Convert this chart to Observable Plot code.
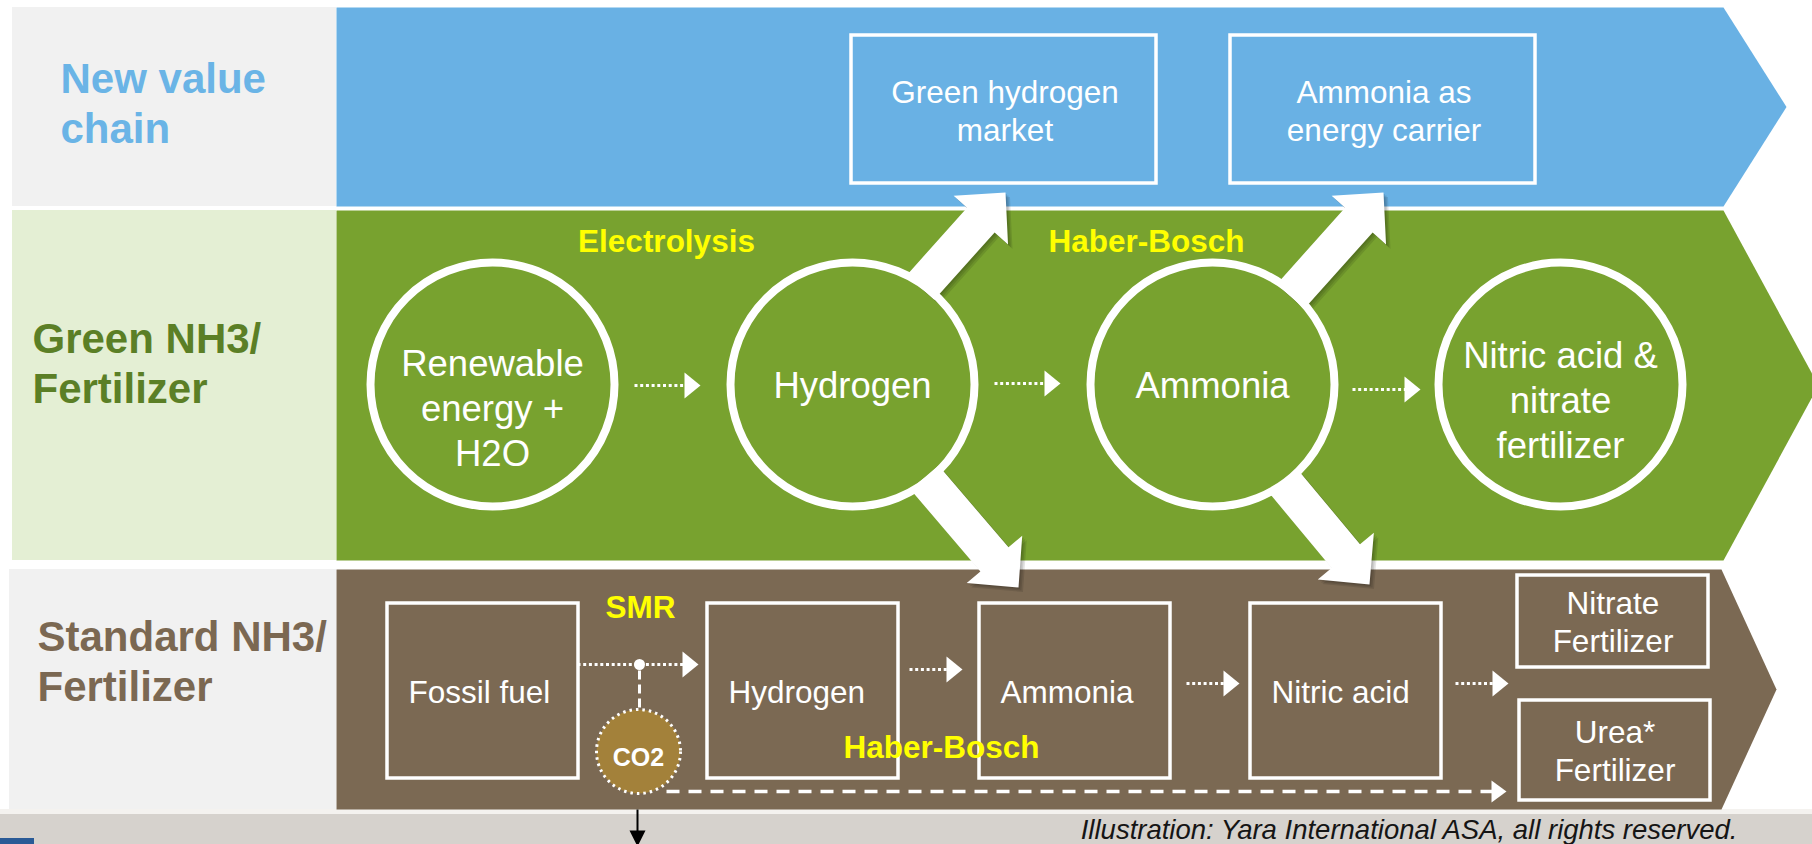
<!DOCTYPE html>
<html><head><meta charset="utf-8">
<script src="https://cdn.jsdelivr.net/npm/d3@7"></script>
<script src="https://cdn.jsdelivr.net/npm/@observablehq/plot@0.6"></script>
<style>
html,body{margin:0;padding:0;background:#fff;}
#chart svg{display:block;}
</style></head><body><div id="chart"></div>
<script>
// ---------------- data ----------------
const bandLabels = ["New value\nchain", "Green NH3/\nFertilizer", "Standard NH3/\nFertilizer"];
const marketLabels = ["Green hydrogen\nmarket", "Ammonia as\nenergy carrier"];
const greenStages = ["Renewable\nenergy +\nH2O", "Hydrogen", "Ammonia", "Nitric acid &\nnitrate\nfertilizer"];
const greenProcesses = ["Electrolysis", "Haber-Bosch"];
const standardStages = ["Fossil fuel", "Hydrogen", "Ammonia", "Nitric acid"];
const standardProducts = ["Nitrate\nFertilizer", "Urea*\nFertilizer"];
const standardProcesses = ["SMR", "Haber-Bosch"];
const byproducts = ["CO2"];
const captionText = "Illustration: Yara International ASA, all rights reserved.";
// links: [green stage index, market index] and [green stage index, standard stage index]
const upgrades = [[1, 0], [2, 1]];
const feeds = [[1, 2], [2, 3]];

// ---------------- layout ----------------
const W = 1812, H = 844;
const L = {
  labelX1: 12, chevX1: 336, labelSize: 42, labelGap: 50,
  bands: [
    {y1: 7, y2: 206, shoulder: 1723, tip: 1786, fill: "#69b1e4", box: "#f1f1f1", ink: "#6ab4e6", tx: 60, base: 92},
    {y1: 210, y2: 560, shoulder: 1723, tip: 1818, fill: "#78a22f", box: "#e4efd4", ink: "#5b7f26", tx: 32, base: 352},
    {y1: 569, y2: 809, shoulder: 1721, tip: 1776, fill: "#7b6953", box: "#f1f1f1", ink: "#7b6852", tx: 37, base: 650}
  ],
  market: {x1: [851, 1230], w: 305, y1: 35, y2: 183, base: 102, gap: 38, size: 31.5},
  circles: {cx: [492, 852, 1212, 1560], cy: 384, r: 122, base: [375, 397, 397, 367], gap: 45, size: 36.5},
  greenFlow: [[634, 700, 385], [994, 1060, 383], [1352, 1420, 389]],
  greenProc: [[666, 251], [1146, 251]],
  std: {x1: [387, 707, 979, 1250], w: 191, y1: 603, y2: 778, pad: 21, base: 702, size: 31.5},
  prod: {x1: [1517, 1519], w: 191, y: [[575, 667], [700, 800]], base: [613, 742], gap: 38.5},
  stdFlow: [[577, 698, 664], [909, 962, 669], [1186, 1239, 683], [1455, 1508, 683]],
  stdProc: [[640, 617], [941, 757]],
  junction: [639, 664],
  co2: {cx: 638, cy: 751, r: 42, base: 765},
  co2Drop: [639, 670, 708],
  co2Flow: [666, 1506, 791],
  upTips: [[[920, 287], [1005, 192]], [[1290, 296], [1383, 192]]],
  downTips: [[[924, 477], [1018, 587]], [[1284, 482], [1369, 584]]],
  arrow: {shaft: 37, headW: 73, headL: 37},
  shadow: [[1.5, 1.5], [3, 3], [4.5, 4.5]],
  strip: {y1: 814, fill: "#d6d2cd"},
  caption: {x: 1737, y: 838, size: 27.5},
  exitArrow: {x: 637, y1: 809, y2: 846}
};
const procSize = 31.5;

// ---------------- geometry helpers ----------------
const toPts = (pts, id, fill) => pts.map(([x, y]) => ({x, y, id, fill}));
function chevron(b) {
  return [[L.chevX1, b.y1], [b.shoulder, b.y1], [b.tip, (b.y1 + b.y2) / 2], [b.shoulder, b.y2], [L.chevX1, b.y2]];
}
function blockArrow([x0, y0], [x1, y1], s, hw, hl) {
  const dx = x1 - x0, dy = y1 - y0, len = Math.hypot(dx, dy);
  const ux = dx / len, uy = dy / len, nx = -uy, ny = ux;
  const bx = x1 - ux * hl, by = y1 - uy * hl;
  return [
    [x0 + nx * s / 2, y0 + ny * s / 2], [bx + nx * s / 2, by + ny * s / 2], [bx + nx * hw / 2, by + ny * hw / 2],
    [x1, y1],
    [bx - nx * hw / 2, by - ny * hw / 2], [bx - nx * s / 2, by - ny * s / 2], [x0 - nx * s / 2, y0 - ny * s / 2]
  ];
}
const headRight = (tx, ty, len, half) => [[tx - len, ty - half], [tx, ty], [tx - len, ty + half]];
const headDown = (tx, ty, len, half) => [[tx - half, ty - len], [tx, ty], [tx + half, ty - len]];
const splitLines = (text, x, y0, gap) => text.split("\n").map((t, i) => ({x, y: y0 + i * gap, t}));

// ---------------- derived tables ----------------
const labelBoxes = L.bands.map((b, i) => ({x1: L.labelX1 - (i === 2 ? 3 : 0), x2: L.chevX1, y1: b.y1, y2: b.y2, fill: b.box, label: bandLabels[i]}));
const chevPts = L.bands.flatMap((b, i) => toPts(chevron(b), "band" + i, b.fill));
const marketBoxes = marketLabels.map((m, i) => ({x1: L.market.x1[i], x2: L.market.x1[i] + L.market.w, y1: L.market.y1, y2: L.market.y2}));
const stdBoxes = standardStages.map((s, i) => ({x1: L.std.x1[i], x2: L.std.x1[i] + L.std.w, y1: L.std.y1, y2: L.std.y2}));
const prodBoxes = standardProducts.map((s, i) => ({x1: L.prod.x1[i], x2: L.prod.x1[i] + L.prod.w, y1: L.prod.y[i][0], y2: L.prod.y[i][1]}));
const A = L.arrow;
const arrowShapes = [
  ...upgrades.map(([g, m], i) => ({id: "up" + g + m, pts: blockArrow(L.upTips[i][0], L.upTips[i][1], A.shaft, A.headW, A.headL)})),
  ...feeds.map(([g, s], i) => ({id: "down" + g + s, pts: blockArrow(L.downTips[i][0], L.downTips[i][1], A.shaft, A.headW, A.headL)}))
];
const blockPts = arrowShapes.flatMap(a => toPts(a.pts, a.id, "white"));
const shadowPts = L.shadow.flatMap(([ox, oy], k) =>
  arrowShapes.flatMap(a => toPts(a.pts.map(([x, y]) => [x + ox, y + oy]), a.id + "s" + k, "black")));
const circles = greenStages.map((s, i) => ({x: L.circles.cx[i], y: L.circles.cy, label: s}));

const HL = 16, HH = 13;
const dottedShafts = [
  ...L.greenFlow.map(([a, b, y]) => ({x1: a, x2: b - HL + 1, y1: y, y2: y})),
  ...L.stdFlow.map(([a, b, y]) => ({x1: a, x2: b - HL + 1, y1: y, y2: y}))
];
const headPts = [
  ...L.greenFlow.map(([a, b, y], i) => toPts(headRight(b, y, HL, HH), "gh" + i, "white")),
  ...L.stdFlow.map(([a, b, y], i) => toPts(headRight(b, y, HL, HH), "sh" + i, "white")),
  toPts(headRight(L.co2Flow[1], L.co2Flow[2], 15, 11), "co2h", "white")
].flat();
const dashedH = [{x1: L.co2Flow[0], x2: L.co2Flow[1] - 14, y1: L.co2Flow[2], y2: L.co2Flow[2]}];
const dashedV = [{x1: L.co2Drop[0], x2: L.co2Drop[0], y1: L.co2Drop[1], y2: L.co2Drop[2]}];

const labelText = L.bands.flatMap((b, i) => splitLines(bandLabels[i], b.tx, b.base, L.labelGap).map(d => ({...d, fill: b.ink})));
const marketText = marketLabels.flatMap((m, i) => splitLines(m, L.market.x1[i] + L.market.w / 2 + 1, L.market.base, L.market.gap));
const circleText = greenStages.flatMap((s, i) => splitLines(s, L.circles.cx[i], L.circles.base[i], L.circles.gap));
const stdText = standardStages.map((s, i) => ({x: L.std.x1[i] + L.std.pad, y: L.std.base, t: s}));
const prodText = standardProducts.flatMap((s, i) => splitLines(s, L.prod.x1[i] + L.prod.w / 2, L.prod.base[i], L.prod.gap));
const procText = [
  ...greenProcesses.map((p, i) => ({x: L.greenProc[i][0], y: L.greenProc[i][1], t: p})),
  ...standardProcesses.map((p, i) => ({x: L.stdProc[i][0], y: L.stdProc[i][1], t: p}))
];

const strips = [
  {x1: 0, x2: W, y1: L.bands[2].y2, y2: L.strip.y1, fill: "#f4f2ef"},
  {x1: 0, x2: W, y1: L.strip.y1, y2: H, fill: L.strip.fill},
  {x1: 0, x2: 34, y1: 838, y2: H, fill: "#2a5a96"}
];
const E = L.exitArrow;

// ---------------- plot ----------------
const font = "'Liberation Sans', Arial, Helvetica, sans-serif";
const plot = Plot.plot({
  width: W, height: H, margin: 0,
  x: {domain: [0, W], range: [0, W], axis: null},
  y: {domain: [0, H], range: [0, H], axis: null},
  color: {type: "identity"},
  style: {fontFamily: font, background: "#ffffff", overflow: "visible"},
  marks: [
    Plot.rect(strips, {x1: "x1", x2: "x2", y1: "y1", y2: "y2", fill: d => d.fill}),
    Plot.rect(labelBoxes, {x1: "x1", x2: "x2", y1: "y1", y2: "y2", fill: d => d.fill}),
    Plot.line(chevPts, {x: "x", y: "y", z: "id", fill: d => d.fill, stroke: "none", curve: "linear-closed"}),
    Plot.rect(marketBoxes, {x1: "x1", x2: "x2", y1: "y1", y2: "y2", fill: "none", stroke: "white", strokeWidth: 3.5}),
    Plot.rect(stdBoxes, {x1: "x1", x2: "x2", y1: "y1", y2: "y2", fill: "none", stroke: "white", strokeWidth: 3.5}),
    Plot.rect(prodBoxes, {x1: "x1", x2: "x2", y1: "y1", y2: "y2", fill: "none", stroke: "white", strokeWidth: 3.5}),
    Plot.line(shadowPts, {x: "x", y: "y", z: "id", fill: "black", fillOpacity: 0.1, stroke: "none", curve: "linear-closed"}),
    Plot.line(blockPts, {x: "x", y: "y", z: "id", fill: "white", stroke: "none", curve: "linear-closed"}),
    Plot.dot(circles, {x: "x", y: "y", r: L.circles.r, fill: "none", stroke: "white", strokeWidth: 8}),
    Plot.link(dottedShafts, {x1: "x1", x2: "x2", y1: "y1", y2: "y2", stroke: "white", strokeWidth: 3, strokeDasharray: "3,2.7"}),
    Plot.link(dashedH, {x1: "x1", x2: "x2", y1: "y1", y2: "y2", stroke: "white", strokeWidth: 3.5, strokeDasharray: "13,9"}),
    Plot.link(dashedV, {x1: "x1", x2: "x2", y1: "y1", y2: "y2", stroke: "white", strokeWidth: 3, strokeDasharray: "9,5"}),
    Plot.line(headPts, {x: "x", y: "y", z: "id", fill: "white", stroke: "none", curve: "linear-closed"}),
    Plot.dot([{x: L.junction[0], y: L.junction[1]}], {x: "x", y: "y", r: 5.5, fill: "white", stroke: "none"}),
    Plot.dot(byproducts.map(t => ({x: L.co2.cx, y: L.co2.cy, t})), {x: "x", y: "y", r: L.co2.r, fill: "#a3813a", stroke: "white", strokeWidth: 3, strokeDasharray: "2.5,4"}),
    Plot.link([{x: E.x, y1: E.y1, y2: E.y2 - 15}], {x1: "x", x2: "x", y1: "y1", y2: "y2", stroke: "black", strokeWidth: 2}),
    Plot.line(toPts(headDown(E.x, E.y2, 16, 8), "exit", "black"), {x: "x", y: "y", z: "id", fill: "black", stroke: "none", curve: "linear-closed"}),
    // texts
    Plot.text(labelText, {x: "x", y: "y", text: "t", textAnchor: "start", lineAnchor: "bottom", fontSize: L.labelSize, fontWeight: "bold", fill: d => d.fill}),
    Plot.text(marketText, {x: "x", y: "y", text: "t", textAnchor: "middle", lineAnchor: "bottom", fontSize: L.market.size, fill: "white"}),
    Plot.text(circleText, {x: "x", y: "y", text: "t", textAnchor: "middle", lineAnchor: "bottom", fontSize: L.circles.size, fill: "white"}),
    Plot.text(stdText, {x: "x", y: "y", text: "t", textAnchor: "start", lineAnchor: "bottom", fontSize: L.std.size, fill: "white"}),
    Plot.text(prodText, {x: "x", y: "y", text: "t", textAnchor: "middle", lineAnchor: "bottom", fontSize: L.std.size, fill: "white"}),
    Plot.text(byproducts.map(t => ({x: L.co2.cx, y: L.co2.base, t})), {x: "x", y: "y", text: "t", textAnchor: "middle", lineAnchor: "bottom", fontSize: 25, fontWeight: "bold", fill: "white"}),
    Plot.text(procText, {x: "x", y: "y", text: "t", textAnchor: "middle", lineAnchor: "bottom", fontSize: procSize, fontWeight: "bold", fill: "#ffff00"}),
    Plot.text([{x: L.caption.x, y: L.caption.y, t: captionText}], {x: "x", y: "y", text: "t", textAnchor: "end", lineAnchor: "bottom", fontSize: L.caption.size, fontStyle: "italic", fill: "#151515"})
  ]
});

document.getElementById("chart").appendChild(plot);
</script>
</body></html>
